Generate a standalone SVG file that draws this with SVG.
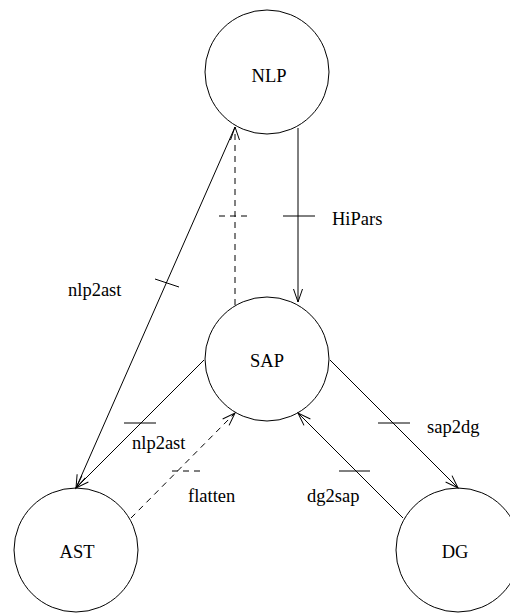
<svg xmlns="http://www.w3.org/2000/svg" width="510" height="613" viewBox="0 0 510 613" font-family="Liberation Serif, Times New Roman, Times, serif" font-size="18.5">
  <style>
    .node circle { fill: none; stroke: #000; stroke-width: 1; }
    .node text { text-anchor: middle; }
    .edge { fill: none; stroke: #000; stroke-width: 1; }
    .dash { stroke-dasharray: 6 5; }
  </style>
  <defs>
    <marker id="arrow" markerUnits="userSpaceOnUse" markerWidth="16" markerHeight="12" refX="0" refY="0" viewBox="-14 -6 16 12" orient="auto" overflow="visible">
      <path d="M-13,-4.5 L0,0 L-13,4.5" fill="none" stroke="#000" stroke-width="1"/>
    </marker>
  </defs>

  <g id="nlp" class="node">
    <circle cx="267" cy="72" r="62"/>
    <text x="269" y="82">NLP</text>
  </g>
  <g id="sap" class="node">
    <circle cx="267" cy="359" r="62"/>
    <text x="267" y="367">SAP</text>
  </g>
  <g id="ast" class="node">
    <circle cx="76" cy="550" r="62"/>
    <text x="77" y="558">AST</text>
  </g>
  <g id="dg" class="node">
    <circle cx="458" cy="550" r="62"/>
    <text x="455" y="558">DG</text>
  </g>

  <g id="connectors">
    <!-- NLP to SAP: HiPars -->
    <line class="edge" x1="298" y1="128" x2="298" y2="302" marker-end="url(#arrow)"/>
    <line class="edge" x1="283" y1="216" x2="315" y2="216"/>
    <text x="332" y="225">HiPars</text>

    <!-- SAP back to NLP (dashed) -->
    <line class="edge dash" x1="235" y1="305" x2="235" y2="127" marker-end="url(#arrow)"/>
    <line class="edge dash" x1="219" y1="216" x2="252" y2="216"/>

    <!-- NLP to AST: nlp2ast -->
    <line class="edge" x1="235" y1="127" x2="76" y2="488" marker-end="url(#arrow)"/>
    <line class="edge" x1="155" y1="279" x2="179" y2="287"/>
    <text x="68" y="296">nlp2ast</text>

    <!-- SAP to AST: nlp2ast -->
    <line class="edge" x1="204" y1="360" x2="76" y2="488" marker-end="url(#arrow)"/>
    <line class="edge" x1="124" y1="423" x2="156" y2="423"/>
    <text x="132" y="449">nlp2ast</text>

    <!-- AST to SAP: flatten (dashed) -->
    <line class="edge dash" x1="131" y1="518" x2="235" y2="413" marker-end="url(#arrow)"/>
    <line class="edge dash" x1="172" y1="471" x2="204" y2="471"/>
    <text x="188" y="502">flatten</text>

    <!-- SAP to DG: sap2dg -->
    <line class="edge" x1="330" y1="360" x2="458" y2="488" marker-end="url(#arrow)"/>
    <line class="edge" x1="378" y1="423" x2="410" y2="423"/>
    <text x="427" y="433">sap2dg</text>

    <!-- DG to SAP: dg2sap -->
    <line class="edge" x1="403" y1="518" x2="298" y2="413" marker-end="url(#arrow)"/>
    <line class="edge" x1="339" y1="471" x2="370" y2="471"/>
    <text x="307" y="502">dg2sap</text>
  </g>
</svg>
